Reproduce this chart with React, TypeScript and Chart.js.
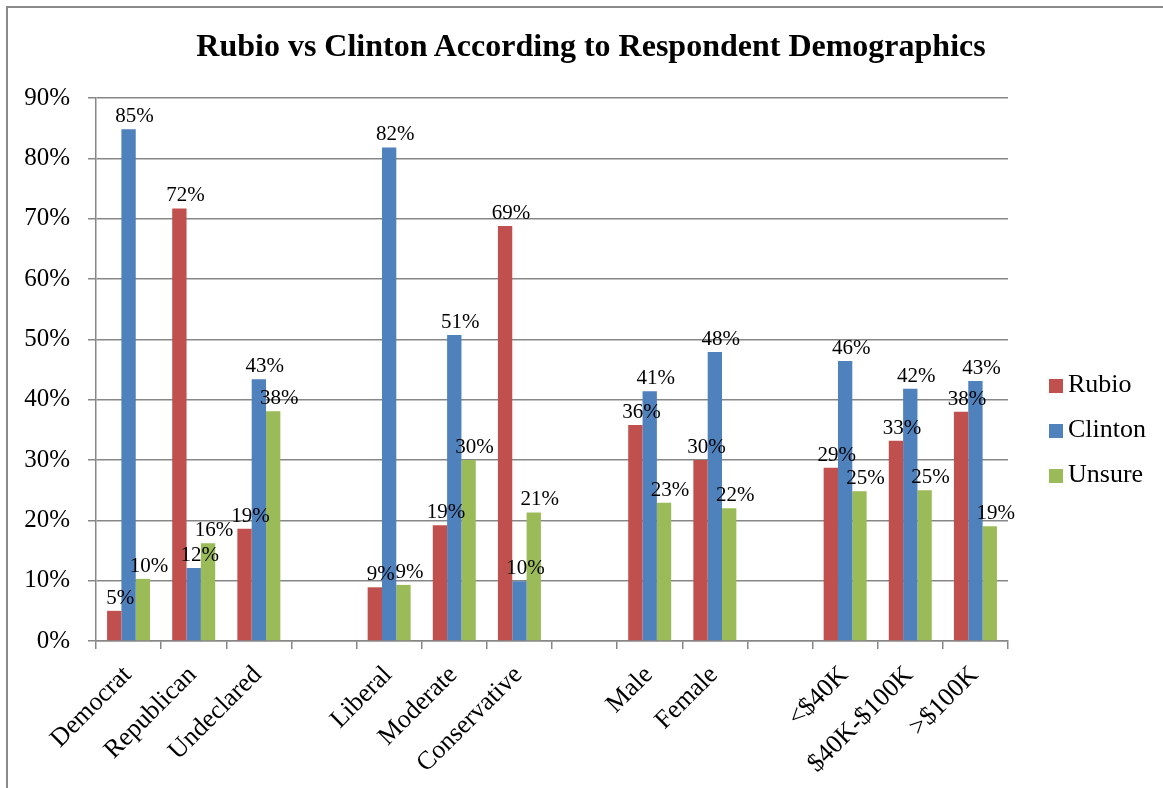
import React, { useEffect, useRef } from "react";
import { Chart, registerables } from "chart.js";

Chart.register(...registerables);

const titleText = "Rubio vs Clinton According to Respondent Demographics";
const categories = [
  "Democrat", "Republican", "Undeclared", "",
  "Liberal", "Moderate", "Conservative", "",
  "Male", "Female", "",
  "<$40K", "$40K-$100K", ">$100K",
];
const seriesNames = ["Rubio", "Clinton", "Unsure"];
const seriesColors = ["#C0504D", "#4F81BD", "#9BBB59"];
const rubio = [5.0, 71.7, 18.6, null, 8.9, 19.2, 68.8, null, 35.8, 30.0, null, 28.7, 33.2, 38.0];
const clinton = [84.8, 12.1, 43.4, null, 81.8, 50.7, 9.9, null, 41.4, 47.9, null, 46.4, 41.8, 43.1];
const unsure = [10.3, 16.2, 38.1, null, 9.3, 30.0, 21.3, null, 22.9, 22.0, null, 24.8, 25.0, 19.0];
const yMax = 90;
const yStep = 10;

const FONT = "'Liberation Serif', 'Times New Roman', serif";
const GRID = "#878787";

const labelPlugin = {
  id: "barLabels",
  afterDatasetsDraw(chart: any) {
    const ctx = chart.ctx;
    ctx.save();
    ctx.font = `21px ${FONT}`;
    ctx.fillStyle = "#000";
    ctx.textAlign = "center";
    ctx.textBaseline = "alphabetic";
    chart.data.datasets.forEach((ds: any, di: number) => {
      const meta = chart.getDatasetMeta(di);
      meta.data.forEach((el: any, i: number) => {
        const v = ds.data[i];
        if (v === null || v === undefined) return;
        ctx.fillText(Math.round(v) + "%", el.x + 6, el.y - 7);
      });
    });
    ctx.restore();
  },
};

export default function App() {
  const ref = useRef<HTMLCanvasElement>(null);
  useEffect(() => {
    const data = [rubio, clinton, unsure];
    const chart = new Chart(ref.current!, {
      type: "bar",
      data: {
        labels: categories,
        datasets: seriesNames.map((n, i) => ({
          label: n,
          data: data[i] as any,
          backgroundColor: seriesColors[i],
          borderWidth: 0,
          categoryPercentage: 0.66,
          barPercentage: 1.0,
        })),
      },
      options: {
        responsive: false,
        animation: false,
        devicePixelRatio: 1,
        layout: { padding: { top: 98, right: 155, bottom: 0, left: 0 } },
        plugins: { legend: { display: false }, title: { display: false }, tooltip: { enabled: false } },
        scales: {
          x: {
            offset: true,
            grid: { display: true, drawOnChartArea: false, drawTicks: true, tickLength: 8, color: GRID, lineWidth: 1.5, offset: true },
            border: { display: true, color: GRID, width: 1.5 },
            ticks: {
              autoSkip: false,
              minRotation: 45,
              maxRotation: 45,
              padding: 11,
              labelOffset: -1,
              color: "#000",
              font: { family: FONT, size: 26 },
            },
            afterFit(scale: any) { scale.height = 147; },
          },
          y: {
            min: 0,
            max: yMax,
            grid: { color: GRID, lineWidth: 1.5, tickLength: 8, drawTicks: true },
            border: { display: true, color: GRID, width: 1.5 },
            ticks: {
              stepSize: yStep,
              padding: 18,
              color: "#000",
              font: { family: FONT, size: 25 },
              callback: (v: any) => v + "%",
            },
            afterFit(scale: any) { scale.width = 96; },
          },
        },
      },
      plugins: [labelPlugin],
    });
    return () => chart.destroy();
  }, []);

  return (
    <div style={{ position: "fixed", left: 0, top: 0, width: 1163, height: 788, background: "#fff", overflow: "hidden" }}>
      <div style={{ position: "absolute", left: 6, top: 6, width: 1163, height: 788, borderLeft: "2px solid #8a8a8a", borderTop: "2px solid #8a8a8a" }} />
      <canvas ref={ref} width={1163} height={788} style={{ position: "absolute", left: 0, top: 0, width: 1163, height: 788 }} />
      <div style={{ position: "absolute", left: 0, top: 29, width: 1182, textAlign: "center", fontFamily: FONT, fontWeight: "bold", fontSize: 32, lineHeight: "32px", whiteSpace: "nowrap" }}>
        {titleText}
      </div>
      {seriesNames.map((n, i) => (
        <div key={n}>
          <div style={{ position: "absolute", left: 1049, top: 379 + 45 * i, width: 14, height: 14, background: seriesColors[i] }} />
          <div style={{ position: "absolute", left: 1068, top: 371 + 45 * i, fontFamily: FONT, fontSize: 26, lineHeight: "26px", whiteSpace: "nowrap" }}>{n}</div>
        </div>
      ))}
    </div>
  );
}
